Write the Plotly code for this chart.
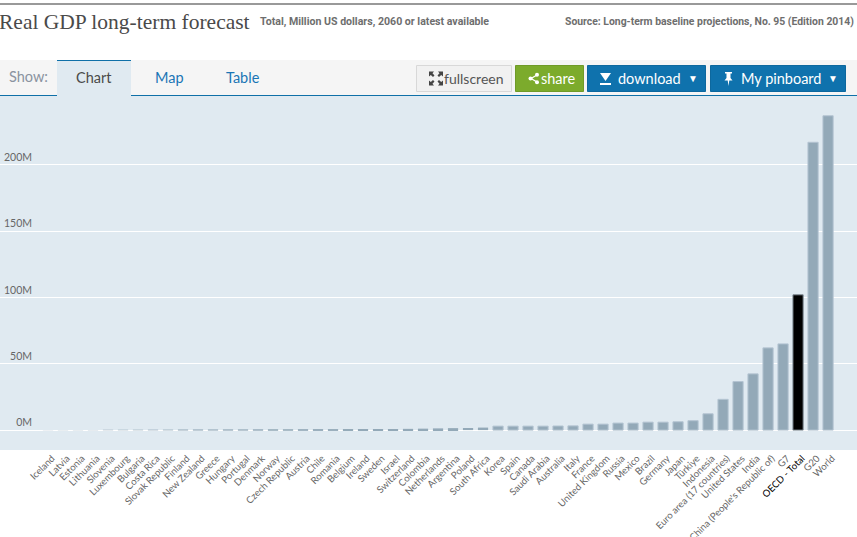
import plotly.graph_objects as go

categories = ["Iceland","Latvia","Estonia","Lithuania","Slovenia","Luxembourg","Bulgaria","Costa Rica",
 "Slovak Republic","Finland","New Zealand","Greece","Hungary","Portugal","Denmark","Norway","Czech Republic",
 "Austria","Chile","Romania","Belgium","Ireland","Sweden","Israel","Switzerland","Colombia","Netherlands",
 "Argentina","Poland","South Africa","Korea","Spain","Canada","Saudi Arabia","Australia","Italy","France",
 "United Kingdom","Russia","Mexico","Brazil","Germany","Japan","Türkiye","Indonesia","Euro area (17 countries)",
 "United States","India","China (People's Republic of)","G7","OECD - Total","G20","World"]
values_m = [0.03,0.06,0.07,0.08,0.1,0.12,0.14,0.18,0.2,0.3,0.35,0.35,0.4,0.4,0.45,0.5,0.5,0.55,0.6,0.6,0.65,0.7,
 0.75,0.85,0.95,1.1,1.3,1.5,1.6,1.9,3.0,3.0,3.0,3.0,3.1,3.2,4.5,4.5,5.3,5.3,6.0,6.0,6.3,7.1,12.3,23.2,36.6,42.4,
 62.0,65.0,102.0,217.0,237.0]
highlight = "OECD - Total"
y_ticks = [0,50,100,150,200]
y_tick_labels = ["0M","50M","100M","150M","200M"]

W, H = 857, 537
BAND = "#e0eaf1"
BLUE = "#0f70a8"
LABEL_FONT = "Lato"
PX_PER_M = 1.326

def X(v): return v / W
def Y(v): return 1 - v / H

shapes = []
def rect(x0, y0, x1, y1, fill, line=None, layer="below"):
    shapes.append(dict(type="rect", xref="paper", yref="paper", x0=X(x0), x1=X(x1), y0=Y(y1), y1=Y(y0),
                       fillcolor=fill, line=dict(color=line or fill, width=1 if line else 0), layer=layer))
def seg(x0, y0, x1, y1, color, width=1, layer="below"):
    shapes.append(dict(type="line", xref="paper", yref="paper", x0=X(x0), x1=X(x1), y0=Y(y0), y1=Y(y1),
                       line=dict(color=color, width=width), layer=layer))
def poly(points, fill):
    path = "M " + " L ".join(f"{X(a):.5f},{Y(b):.5f}" for a, b in points) + " Z"
    shapes.append(dict(type="path", xref="paper", yref="paper", path=path, fillcolor=fill, line=dict(width=0), layer="above"))

rect(0, 3, W, 5, "#999999")
rect(0, 60, W, 95, "#f5f5f5")
seg(0, 95.5, W, 95.5, BLUE, 1.2)
rect(57, 60, 131, 97, BAND)
seg(57, 60.5, 131, 60.5, BLUE, 1.2)
rect(416.5, 65.5, 511.5, 91.5, "#f1f1f1", "#d8d8d8")
rect(515.5, 65.5, 583.5, 91.5, "#7cab2c", "#6f9a28")
rect(587.5, 65.5, 705.5, 91.5, "#0f72ad", "#0d689e")
rect(710.5, 65.5, 845.5, 91.5, "#0f72ad", "#0d689e")

for sx, sy in [(-1,-1),(1,-1),(-1,1),(1,1)]:
    cx, cy = 436, 78.5
    poly([(cx+sx*7, cy+sy*7),(cx+sx*2, cy+sy*7),(cx+sx*3.5, cy+sy*5.2),(cx+sx*1.5, cy+sy*3),
          (cx+sx*3, cy+sy*1.5),(cx+sx*5.2, cy+sy*3.5),(cx+sx*7, cy+sy*2)], "#444444")
seg(531, 78.5, 537, 75, "white", 1.4, "above"); seg(531, 78.5, 537, 82, "white", 1.4, "above")
for px, py in [(530.5,78.5),(537,74.8),(537,82.2)]:
    shapes.append(dict(type="circle", xref="paper", yref="paper", x0=X(px-2), x1=X(px+2), y0=Y(py+2), y1=Y(py-2),
                       fillcolor="white", line=dict(width=0), layer="above"))
poly([(600,73),(611,73),(605.5,81)], "white")
rect(600, 83, 611, 85, "white", layer="above")
poly([(725,72),(732,72),(732,73.5),(730.5,73.5),(730.5,78),(732.5,80.5),(729.3,80.5),(728.5,86),(727.7,80.5),(724.5,80.5),(726.5,78),(726.5,73.5),(725,73.5)], "white")

def note(x, y, text, size, color, anchor="left", family=LABEL_FONT, weight="normal"):
    return dict(xref="paper", yref="paper", x=X(x), y=Y(y), text=text, showarrow=False, xanchor=anchor, yanchor="middle",
                font=dict(size=size, color=color, family=family, weight=weight))

annotations = [
    note(-3, 22, "Real GDP long-term forecast", 21.5, "#4a4a4a", family="Liberation Serif"),
    note(258, 22, "Total, Million US dollars, 2060 or latest available", 10.6, "#6e6e6e", family="Roboto", weight="bold"),
    note(856, 22, "Source: Long-term baseline projections, No. 95 (Edition 2014)", 10.4, "#6e6e6e", "right", family="Roboto", weight="bold"),
    note(7, 76.5, "Show:", 14.5, "#8a93a0"),
    note(94, 78, "Chart", 14.5, "#4a4a4a", "center"),
    note(169, 78, "Map", 14.5, "#1a75b5", "center"),
    note(243, 78, "Table", 14.5, "#1a75b5", "center"),
    note(442, 78.5, "fullscreen", 14, "#555555"),
    note(539, 78.5, "share", 14.5, "white"),
    note(616, 78.5, "download", 14.5, "white"),
    note(686, 78, "▼", 10, "white"),
    note(739, 78.5, "My pinboard", 14.5, "white"),
    note(826, 78, "▼", 10, "white"),
]

ticktext = [f'<span style="color:#000000">{c}</span>' if c == highlight else c for c in categories]
bar_colors = ["#000000" if c == highlight else "#93a9b8" for c in categories]
edge_colors = ["#7f8b94" if c == highlight else "#b4c4d2" for c in categories]
edge_widths = [1 if v >= 2.5 else 0 for v in values_m]
bar_opacity = [min(1.0, 0.12 + v * PX_PER_M) for v in values_m]

fig = go.Figure(go.Bar(x=categories, y=[v * 1e6 for v in values_m],
                       marker=dict(color=bar_colors, opacity=bar_opacity, line=dict(color=edge_colors, width=edge_widths)),
                       width=0.68))
fig.update_layout(
    width=W, height=H, margin=dict(l=0, r=0, t=0, b=0, autoexpand=False), paper_bgcolor="white", plot_bgcolor=BAND,
    showlegend=False, shapes=shapes, annotations=annotations, bargap=0.32,
    font=dict(family=LABEL_FONT, color="#666666"),
    xaxis=dict(domain=[0, 1], type="category", categoryorder="array", categoryarray=categories, automargin=False,
               tickmode="array", tickvals=categories, ticktext=ticktext, tickangle=-45, ticklabelshift=4,
               tickfont=dict(size=9.6, color="#666666", family=LABEL_FONT), showgrid=False, ticks="", showline=False,
               range=[-3.2, 53.93], zeroline=False),
    yaxis=dict(domain=[Y(450), Y(96)], anchor="free", position=X(32), range=[-15e6, 251.9e6], automargin=False,
               tickmode="array", tickvals=[t * 1e6 for t in y_ticks], ticktext=y_tick_labels,
               ticklabelposition="outside top", ticks="", showline=False,
               tickfont=dict(size=10.5, color="#666666", family=LABEL_FONT),
               showgrid=True, gridcolor="white", gridwidth=1, zeroline=True, zerolinecolor="white", zerolinewidth=1),
)
fig.write_html("out.html", post_script="document.body.style.margin='0';", config=dict(displayModeBar=False))
